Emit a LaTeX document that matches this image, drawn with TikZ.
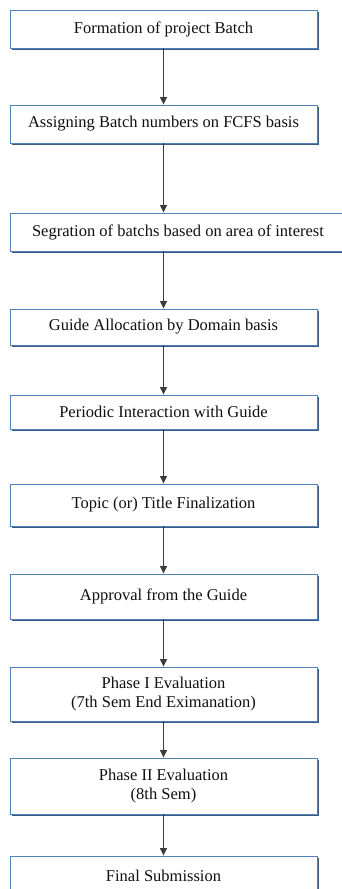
\documentclass[tikz,border=0pt]{standalone}
\usepackage{fontspec}
\setmainfont{Liberation Serif}
\usetikzlibrary{arrows.meta,shadows}
\definecolor{boxline}{HTML}{4F81BD}
\definecolor{boxshade}{HTML}{3A5A80}
\definecolor{arrowc}{HTML}{3C3C3C}
\definecolor{txt}{HTML}{101010}
\tikzset{
  stepbox/.style={draw=boxline, line width=0.9pt, fill=white, rectangle,
    minimum width=307pt, inner sep=0pt, align=center, text=txt,
    font=\fontsize{16.5}{18.5}\selectfont,
    drop shadow={shadow xshift=2pt, shadow yshift=-2.2pt, fill=boxshade, opacity=1}},
  flow/.style={draw=arrowc, line width=1pt, -{Triangle[width=7pt,length=7.5pt]}}
}
\begin{document}
\begin{tikzpicture}[x=1pt,y=-1pt]
\clip (0,0) rectangle (342,889);
\fill[white] (0,0) rectangle (342,889);
\node[stepbox, minimum height=38pt] (b1) at (163.5,29) {Formation of project Batch};
\node[stepbox, minimum height=38pt] (b2) at (163.5,124) {Assigning Batch numbers on FCFS basis};
\node[stepbox, minimum height=38pt, minimum width=336pt] (b3) at (178,232) {Segration of batchs based on area of interest};
\node[stepbox, minimum height=36pt] (b4) at (163.5,327) {Guide Allocation by Domain basis};
\node[stepbox, minimum height=34pt] (b5) at (163.5,412) {Periodic Interaction with Guide};
\node[stepbox, minimum height=42pt] (b6) at (163.5,505) {Topic (or) Title Finalization};
\node[stepbox, minimum height=45pt] (b7) at (163.5,596.5) {Approval from the Guide};
\node[stepbox, minimum height=54pt] (b8) at (163.5,694) {Phase I Evaluation\\(7th Sem End Eximanation)};
\node[stepbox, minimum height=56pt] (b9) at (163.5,786) {Phase II Evaluation\\(8th Sem)};
\node[stepbox, minimum height=40pt] (b10) at (163.5,876) {Final Submission};
\draw[flow] (b1.south) -- (b2.north);
\draw[flow] (b2.south) -- (b3.north -| b2.south);
\draw[flow] (b3.south -| b4.north) -- (b4.north);
\draw[flow] (b4.south) -- (b5.north);
\draw[flow] (b5.south) -- (b6.north);
\draw[flow] (b6.south) -- (b7.north);
\draw[flow] (b7.south) -- (b8.north);
\draw[flow] (b8.south) -- (b9.north);
\draw[flow] (b9.south) -- (b10.north);
\end{tikzpicture}
\end{document}
